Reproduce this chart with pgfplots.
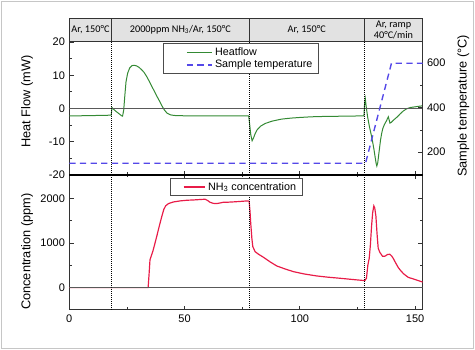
\documentclass[border=0pt]{standalone}
\usepackage{fontspec}
\setmainfont{Liberation Sans}
\newfontfamily\hdrfont{Carlito}
\usepackage{pgfplots}
\pgfplotsset{compat=1.18}

\definecolor{hfgreen}{RGB}{52,138,52}
\definecolor{tblue}{RGB}{84,72,232}
\definecolor{nhred}{RGB}{232,28,72}
\definecolor{hdrgray}{RGB}{226,226,226}

\pgfplotsset{
  panel/.style={
    scale only axis, width=282.72pt, xmin=0, xmax=153.3,
    axis line style={black!80, line width=0.8pt},
    tick style={black!80, line width=0.6pt},
    major tick length=3.5pt, minor tick length=2pt,
    xtick={0,50,100,150}, minor xtick={25,75,125},
    tick label style={font=\fontsize{8.8}{10}\selectfont},
    label style={font=\fontsize{10.2}{12}\selectfont},
    /pgf/number format/assume math mode=true,
    /pgf/number format/1000 sep={},
    legend cell align=left,
  },
}

\pgfplotstableread{
t v
0 -2.2
4 -2.2
8 -2.15
12 -2.1
16 -2.05
18.2 -2.0
18.5 0.3
19.3 -0.3
20.5 -1.0
21.8 -1.7
22.7 -2.2
23.1 -2.3
23.6 -0.5
24.1 4
24.6 8
25.3 10.6
26.2 12.2
27.2 12.9
28.2 13.0
29.2 12.8
30.2 12.4
31.3 11.7
32.4 10.9
33.5 9.7
34.6 8.3
35.7 6.8
36.8 5.3
37.9 3.8
39 2.4
40.1 0.9
41.2 -0.4
42.4 -1.4
43.8 -1.9
45.5 -2.1
50 -2.2
55 -2.25
60 -2.25
65 -2.25
70 -2.2
75 -2.2
77.8 -2.2
78.2 -4.5
78.7 -7.8
79.3 -9.7
79.9 -8.9
80.6 -7.6
81.5 -6.4
83 -5.3
85 -4.5
88 -3.8
92 -3.2
96 -2.9
100 -2.7
105 -2.5
110 -2.4
115 -2.35
120 -2.3
125 -2.25
127.8 -2.2
128.1 1.5
128.4 3.0
128.8 0.5
129.4 -2.5
130.2 -5.5
131 -8
131.7 -10.5
132.2 -12.5
132.7 -14.8
133.1 -16.5
133.4 -17.3
133.8 -16.3
134.2 -14
134.6 -11.8
135 -9.5
135.5 -7.5
136 -6
136.7 -4.8
137.5 -3.8
138.4 -2.5
139.1 -4.4
139.8 -4.1
140.8 -3.4
142.3 -2.5
143.4 -1.7
144.8 -0.8
146.3 -0.1
148 0.3
150 0.5
152 0.7
153.3 0.8
}\heatflow

\pgfplotstableread{
t v
0 150
128.5 150
139.75 600
153.3 600
}\temperature

\pgfplotstableread{
t v
0 0
34.2 0
34.6 300
35.0 620
35.5 700
36.2 806
37.0 960
37.9 1141
39 1370
40.1 1589
41.0 1750
41.8 1830
43.0 1880
45 1915
48 1940
51 1955
54 1962
57 1972
58.9 1978
60 1950
61 1910
62.5 1885
63.9 1880
65.5 1895
66.8 1910
69 1912
71.1 1918
74 1928
77 1940
78.0 1935
78.4 1700
78.7 1440
79.2 1100
79.6 917
80.6 805
82 750
84.2 680
87 580
90 485
93.5 420
97.2 358
102 305
107.3 262
112 235
117.4 210
123 182
128.2 157
128.9 210
129.5 500
130.1 658
130.6 950
131.1 1365
131.6 1680
132.1 1828
132.5 1780
133 1600
133.5 1200
134 880
134.7 790
135.9 700
137 705
138 740
139.0 748
139.8 710
140.5 657
141.5 560
142.7 450
143.5 396
145 310
147 231
150.6 172
153.3 125
}\ammonia

\begin{document}
\begin{tikzpicture}
\useasboundingbox (0pt,0pt) rectangle (380pt,280pt);
\draw[gray!45, line width=0.8pt] (1.2pt,1.2pt) rectangle (378.8pt,278.8pt);

% ---------- top panel: heat flow ----------
\begin{axis}[panel,
  at={(55.44pt,140pt)}, anchor=south west, height=107.2pt,
  ymin=-20, ymax=20.3,
  ytick={-20,-10,0,10,20}, minor ytick={-15,-5,5,15},
  ytick pos=left, xtick pos=bottom, xticklabels={},
  ylabel={Heat Flow (mW)},
  ylabel style={at={(axis description cs:-0.1197,0.547)}, anchor=center},
]
\addplot[hfgreen, line width=0.8pt, forget plot] table[x=t, y=v] {\heatflow};
\draw[black!65, line width=0.7pt] (axis cs:0,0) -- (axis cs:153.3,0);
\draw[black, densely dotted, line width=0.6pt] (axis cs:18.4,-20) -- (axis cs:18.4,20.3);
\draw[black, densely dotted, line width=0.6pt] (axis cs:78,-20) -- (axis cs:78,20.3);
\draw[black, densely dotted, line width=0.6pt] (axis cs:128,-20) -- (axis cs:128,20.3);
\end{axis}

% ---------- top panel: temperature (right axis) ----------
\begin{axis}[panel,
  at={(55.44pt,140pt)}, anchor=south west, height=107.2pt,
  ymin=97, ymax=700,
  axis x line=none, axis y line*=right,
  ytick={200,400,600}, minor ytick={300,500},
  ylabel={Sample temperature (°C)},
  ylabel style={at={(axis description cs:1.115,0.516)}, anchor=center},
  legend style={at={(rel axis cs:0.266,0.983)}, anchor=north west,
    draw=black!70, fill=white, line width=0.6pt,
    font=\fontsize{8.6}{10}\selectfont,
    inner xsep=3pt, inner ysep=1pt, row sep=-1.5pt},
  legend image code/.code={\path (0pt,0pt); \draw[#1] (15pt,0pt) -- (35pt,0pt);},
]
\addlegendimage{hfgreen, line width=0.8pt}
\addlegendentry{Heatflow}
\addplot[tblue, line width=1.1pt, dash pattern=on 5pt off 3.5pt] table[x=t, y=v] {\temperature};
\addlegendentry{Sample temperature}
\end{axis}

% ---------- bottom panel: NH3 ----------
\begin{axis}[panel,
  at={(55.44pt,32pt)}, anchor=south west, height=108pt,
  ymin=-500, ymax=2520,
  ytick={0,1000,2000}, minor ytick={500,1500},
  ylabel={Concentration (ppm)},
  ylabel style={at={(axis description cs:-0.1197,0.432)}, anchor=center},
  legend style={at={(rel axis cs:0.285,0.976)}, anchor=north west,
    draw=black!70, fill=white, line width=0.6pt,
    font=\fontsize{8.6}{10}\selectfont,
    inner xsep=3pt, inner ysep=1pt},
  legend image code/.code={\path (0pt,0pt); \draw[#1] (7pt,0pt) -- (24pt,0pt);},
]
\addplot[nhred, line width=0.95pt, forget plot] table[x=t, y=v] {\ammonia};
\addlegendimage{nhred, line width=1.2pt, solid}
\addlegendentry{NH\textsubscript{3} concentration}
\draw[black!65, line width=0.7pt] (axis cs:0,0) -- (axis cs:153.3,0);
\draw[black, densely dotted, line width=0.6pt] (axis cs:18.4,-500) -- (axis cs:18.4,2520);
\draw[black, densely dotted, line width=0.6pt] (axis cs:78,-500) -- (axis cs:78,2520);
\draw[black, densely dotted, line width=0.6pt] (axis cs:128,-500) -- (axis cs:128,2520);
\end{axis}

% divider between panels
\draw[black, line width=1.2pt] (55.44pt,140pt) -- (338.16pt,140pt);

% ---------- header strip ----------
\draw[black!80, line width=0.7pt, fill=hdrgray] (55.44pt,247.2pt) rectangle (338.16pt,265.36pt);
\draw[black!80, line width=0.7pt] (89.36pt,247.2pt) -- (89.36pt,265.36pt);
\draw[black!80, line width=0.7pt] (199.28pt,247.2pt) -- (199.28pt,265.36pt);
\draw[black!80, line width=0.7pt] (291.44pt,247.2pt) -- (291.44pt,265.36pt);
\begin{scope}[every node/.style={font=\hdrfont\fontsize{8.2}{8.8}\selectfont, inner sep=0pt}]
\node at (72.4pt,256.3pt) {Ar, 150°C};
\node at (144.3pt,256.3pt) {2000ppm NH\textsubscript{3}/Ar, 150°C};
\node at (245.4pt,256.3pt) {Ar, 150°C};
\node[align=center] at (314.8pt,256.3pt) {Ar, ramp\\40°C/min};
\end{scope}
\end{tikzpicture}
\end{document}
